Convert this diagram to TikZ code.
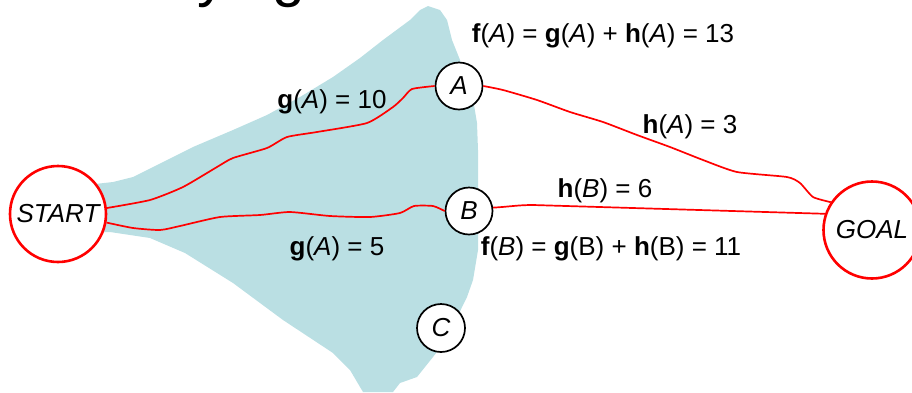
\documentclass[tikz,border=0pt]{standalone}
\usepackage{fontspec}
\setmainfont{Liberation Sans}
\usepackage{xcolor}
\definecolor{basin}{RGB}{186,223,227}
\tikzset{
  endstate/.style={circle,draw=red,line width=2.6pt,fill=white,minimum size=96pt,inner sep=0pt,font=\fontsize{26}{30}\selectfont\itshape},
  midstate/.style={circle,draw=black,line width=1.7pt,fill=white,minimum size=47pt,inner sep=0pt,font=\fontsize{26}{30}\selectfont\itshape},
  route/.style={draw=red,line width=1.7pt,line join=round},
  costlabel/.style={anchor=base,inner sep=0pt,font=\fontsize{26}{30}\selectfont},
}

\begin{document}
\begin{tikzpicture}[x=1pt,y=-1pt]
\useasboundingbox (0,0) rectangle (912,392);

% explored region
\fill[basin] (95,184) -- (113,182) -- (133,177) -- (167,160) -- (193,147) -- (233,130)
  -- (267,115) -- (300,97) -- (333,77) -- (360,58) -- (383,40) -- (410,20) -- (420,10)
  -- (428,6) -- (440,10) -- (447,20) -- (452,40) -- (460,60) -- (472,93) -- (477,123)
  -- (478,150) -- (478,190) -- (478,250) -- (473,280) -- (467,297) -- (462,307)
  -- (450,335) -- (433,357) -- (417,377) -- (400,383) -- (393,392) -- (363,392)
  -- (350,370) -- (333,353) -- (283,320) -- (233,283) -- (185,253) -- (150,238)
  -- (110,232) -- (95,232) -- cycle;

\node[anchor=base west,inner sep=0pt,font=\fontsize{59}{70}\selectfont] (title) at (197,-5) {ying};

% states
\node[endstate] (start) at (58,214) {START};
\node[endstate,minimum size=97pt] (goal) at (872,230) {GOAL};
\node[midstate] (a) at (459,86) {A};
\node[midstate] (b) at (469,211) {B};
\node[midstate,minimum size=48pt] (c) at (441,328) {C};

% routes
\draw[route] plot[smooth,tension=0.35] coordinates {(start.7) (150,200) (183,187) (217,167)
  (233,158) (267,148) (287,137) (317,132) (367,123) (393,107) (403,98) (412,89) (a.west)};
\draw[route] plot[smooth,tension=0.35] coordinates {(start.-10) (133,228) (160,230) (180,226)
  (220,217) (260,215) (290,212) (330,216) (370,217) (400,213) (414,206) (433,206) (b.west)};
\draw[route] plot[smooth,tension=0.35] coordinates {(a.east) (503,90) (537,100) (570,112)
  (603,122) (637,135) (670,147) (703,160) (737,172) (787,177) (800,183) (813,197) (goal.146)};
\draw[route] (b.8) to[out=3,in=180] (533,205) -- (goal.161);

% costs
\node[costlabel] (fa) at (603,42) {\textbf{f}(\textit{A}) = \textbf{g}(\textit{A}) + \textbf{h}(\textit{A}) = 13};
\node[costlabel] (ga) at (332,108) {\textbf{g}(\textit{A}) = 10};
\node[costlabel] (ha) at (690,133) {\textbf{h}(\textit{A}) = 3};
\node[costlabel] (hb) at (605,197) {\textbf{h}(\textit{B}) = 6};
\node[costlabel] (gb) at (337,255) {\textbf{g}(\textit{A}) = 5};
\node[costlabel] (fb) at (611,255) {\textbf{f}(\textit{B}) = \textbf{g}(B) + \textbf{h}(B) = 11};

\end{tikzpicture}
\end{document}
